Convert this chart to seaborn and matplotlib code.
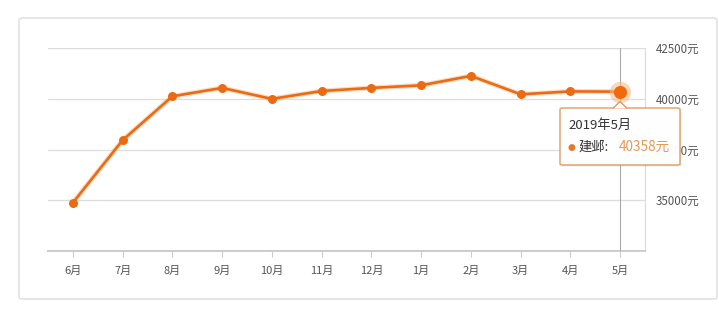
import matplotlib
matplotlib.use("Agg")
import matplotlib.pyplot as plt
import seaborn as sns
import pandas as pd
from matplotlib.patches import FancyBboxPatch, Polygon

months = ["6月", "7月", "8月", "9月", "10月", "11月", "12月", "1月", "2月", "3月", "4月", "5月"]
prices = [34870, 37960, 40128, 40543, 40000, 40390, 40543, 40670, 41136, 40227, 40370, 40358]
y_ticks = [35000, 37500, 40000, 42500]
y_tick_labels = ["35000元", "37500元", "40000元", "42500元"]
tooltip_title = "2019年5月"
series_name = "建邺"

sns.set_theme(style="white")
plt.rcParams["font.family"] = ["Noto Sans CJK SC", "DejaVu Sans"]

W, H = 719, 316
fig = plt.figure(figsize=(W / 100, H / 100), dpi=100)

def fx(px):
    return px / W

def fy(py):
    return 1 - py / H

# outer card border
card = FancyBboxPatch((fx(19), fy(299)), fx(717) - fx(19), fy(18) - fy(299),
                      boxstyle="round,pad=0,rounding_size=0.006",
                      transform=fig.transFigure, facecolor="white",
                      edgecolor="#dcdcdc", linewidth=1.0, zorder=-5)
fig.patches.append(card)

ax = fig.add_axes([fx(48), fy(250.7), fx(645) - fx(48), fy(48.3) - fy(250.7)])
ax.set_facecolor("none")
ax.set_zorder(1)

df = pd.DataFrame({"month": months, "price": prices})
df["idx"] = range(len(months))

line_color = "#ec6a12"
# soft glow under the line
sns.lineplot(data=df, x="idx", y="price", ax=ax, color="#f6b27c", linewidth=3.6,
             alpha=0.45, zorder=4)
sns.lineplot(data=df, x="idx", y="price", ax=ax, color=line_color, linewidth=1.9,
             marker="o", markersize=6.5, markeredgewidth=0, zorder=5)

# highlighted last point
last = df.iloc[-1]
ax.scatter([last["idx"]], [last["price"]], s=240, color="#f7b98a", alpha=0.55,
           linewidths=0, zorder=6)
ax.scatter([last["idx"]], [last["price"]], s=90, color="#f06a0c", linewidths=0, zorder=7)

ax.set_xlim(-0.5, len(months) - 0.5)
ax.set_ylim(32500, 42500)
ax.set_xticks(df["idx"])
ax.set_xticklabels(months, fontsize=8, color="#555555")
ax.set_yticks(y_ticks)
ax.yaxis.tick_right()
ax.set_yticklabels(y_tick_labels, fontsize=8.3, color="#555555")
ax.tick_params(axis="y", length=0, pad=8)
ax.tick_params(axis="x", length=4, width=0.8, color="#cccccc", pad=7, bottom=True)
ax.set_xlabel("")
ax.set_ylabel("")

ax.grid(axis="y", color="#dddddd", linewidth=0.9)
ax.grid(axis="x", visible=False)
for side in ["top", "left"]:
    ax.spines[side].set_visible(False)
ax.spines["bottom"].set_color("#cccccc")
ax.spines["bottom"].set_linewidth(1.4)
ax.spines["right"].set_color("#dddddd")
ax.spines["right"].set_linewidth(0.9)

# crosshair
ax.axvline(last["idx"], color="#aaaaaa", linewidth=0.8, zorder=3)

# tooltip (figure coordinates)
bx0, bx1, by0, by1 = 560, 680, 108, 165
shadow = FancyBboxPatch((fx(bx0 + 1.5), fy(by1 + 1.5)), fx(bx1) - fx(bx0), fy(by0) - fy(by1),
                        boxstyle="round,pad=0,rounding_size=0.004",
                        transform=fig.transFigure, facecolor="#000000", alpha=0.08,
                        edgecolor="none", zorder=20)
fig.patches.append(shadow)
box = FancyBboxPatch((fx(bx0), fy(by1)), fx(bx1) - fx(bx0), fy(by0) - fy(by1),
                     boxstyle="round,pad=0,rounding_size=0.004",
                     transform=fig.transFigure, facecolor="white", alpha=0.97,
                     edgecolor="#dc9a5c", linewidth=1.0, zorder=21)
fig.patches.append(box)
tri = Polygon([(fx(613), fy(108.4)), (fx(620), fy(101.5)), (fx(627), fy(108.4))],
              closed=False, transform=fig.transFigure, facecolor="white",
              edgecolor="#dc9a5c", linewidth=1.0, zorder=22)
fig.patches.append(tri)

fig.text(fx(568), fy(125), tooltip_title, fontsize=9.5, color="#333333",
         va="center", ha="left", zorder=23)
fig.text(fx(567), fy(147.5), "●", fontsize=6.5, color="#e37a2a", va="center", ha="left",
         family=["DejaVu Sans"], zorder=23)
fig.text(fx(578), fy(147), series_name + ":", fontsize=9.5, color="#333333",
         va="center", ha="left", zorder=23)
fig.text(fx(619), fy(147), f"{prices[-1]}元", fontsize=9.8, color="#e39a55",
         va="center", ha="left", zorder=23)

fig.savefig("out.png", dpi=100)
